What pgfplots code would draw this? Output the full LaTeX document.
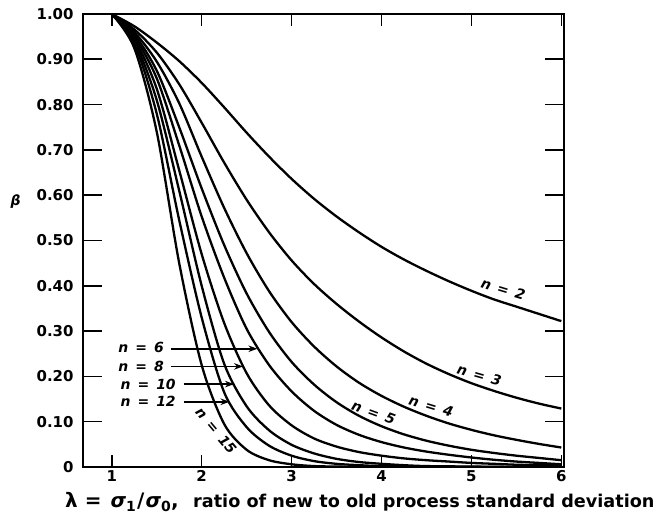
\documentclass[border=0pt]{standalone}
\usepackage{fontspec}
\setmainfont{DejaVu Sans}
\usepackage{pgfplots}
\pgfplotsset{compat=1.18}
\usetikzlibrary{arrows.meta}

\newcommand{\tickfont}{\fontsize{15}{15}\selectfont\bfseries}
\newcommand{\labfont}{\fontsize{14}{14}\selectfont\bfseries\itshape}

\pgfplotsset{
  frame/.style={
    at={(83bp,52bp)}, anchor=south west,
    scale only axis, width=481bp, height=453bp,
    xmin=0.68, xmax=6.03, ymin=0, ymax=1,
    axis line style={line width=1.8bp},
    tick align=inside,
    tick style={line width=1.6bp, black},
    tick label style={font=\tickfont},
  },
}

\begin{document}
\begin{tikzpicture}[x=1bp,y=1bp]
\useasboundingbox (0,0) rectangle (659,519);
% x ticks (shorter)
\begin{axis}[frame,
  major tick length=12bp,
  xtick={1,2,3,4,5,6},
  xticklabels={1,2,3,4,5,6},
  ytick=\empty,
]
\end{axis}
% y ticks and the OC curves
\begin{axis}[frame,
  major tick length=19bp,
  xtick=\empty,
  ytick={0,0.1,0.2,0.3,0.4,0.5,0.6,0.7,0.8,0.9,1},
  yticklabels={0,0.10,0.20,0.30,0.40,0.50,0.60,0.70,0.80,0.90,1.00},
  yticklabel style={xshift=-6bp},
  oc/.style={black, line width=2.3bp, smooth, tension=0.5, mark=none},
]
% n = 2
\addplot[oc] coordinates {(1.0,1.0) (1.25,0.973) (1.5,0.937) (1.75,0.896) (2.0,0.848)
  (2.25,0.794) (2.5,0.738) (2.75,0.685) (3.0,0.636) (3.25,0.592) (3.5,0.553)
  (3.75,0.518) (4.0,0.486) (4.25,0.458) (4.5,0.433) (4.75,0.410) (5.0,0.389)
  (5.25,0.370) (5.5,0.354) (5.75,0.338) (6.0,0.322)};
% n = 3
\addplot[oc] coordinates {(1.0,1.0) (1.25,0.966) (1.5,0.915) (1.75,0.845) (2.0,0.760)
  (2.25,0.672) (2.5,0.590) (2.75,0.518) (3.0,0.456) (3.25,0.404) (3.5,0.360)
  (3.75,0.321) (4.0,0.286) (4.25,0.255) (4.5,0.228) (4.75,0.205) (5.0,0.185)
  (5.25,0.168) (5.5,0.153) (5.75,0.140) (6.0,0.129)};
% n = 4
\addplot[oc] coordinates {(1.0,1.0) (1.25,0.960) (1.5,0.895) (1.75,0.803) (2.0,0.685)
  (2.25,0.572) (2.5,0.472) (2.75,0.388) (3.0,0.320) (3.25,0.266) (3.5,0.222)
  (3.75,0.186) (4.0,0.157) (4.25,0.133) (4.5,0.113) (4.75,0.096) (5.0,0.082)
  (5.25,0.070) (5.5,0.060) (5.75,0.051) (6.0,0.043)};
% n = 5
\addplot[oc] coordinates {(1.0,1.0) (1.25,0.955) (1.5,0.875) (1.75,0.750) (2.0,0.615)
  (2.25,0.490) (2.5,0.383) (2.75,0.298) (3.0,0.232) (3.25,0.182) (3.5,0.143)
  (3.75,0.113) (4.0,0.090) (4.25,0.072) (4.5,0.058) (4.75,0.047) (5.0,0.038)
  (5.25,0.031) (5.5,0.025) (5.75,0.020) (6.0,0.015)};
% n = 6
\addplot[oc] coordinates {(1.0,1.0) (1.25,0.950) (1.5,0.858) (1.75,0.710) (2.0,0.553)
  (2.25,0.418) (2.5,0.305) (2.75,0.225) (3.0,0.167) (3.25,0.124) (3.5,0.093)
  (3.75,0.071) (4.0,0.055) (4.25,0.043) (4.5,0.034) (4.75,0.027) (5.0,0.021)
  (5.25,0.016) (5.5,0.012) (5.75,0.009) (6.0,0.006)};
% n = 8
\addplot[oc] coordinates {(1.0,1.0) (1.25,0.945) (1.5,0.835) (1.75,0.655) (2.0,0.470)
  (2.25,0.318) (2.5,0.207) (2.75,0.136) (3.0,0.092) (3.25,0.063) (3.5,0.045)
  (3.75,0.033) (4.0,0.025) (4.25,0.019) (4.5,0.015) (4.75,0.012) (5.0,0.009)
  (5.25,0.007) (5.5,0.005) (5.75,0.004) (6.0,0.003)};
% n = 10
\addplot[oc] coordinates {(1.0,1.0) (1.25,0.940) (1.5,0.810) (1.75,0.610) (2.0,0.400)
  (2.25,0.228) (2.5,0.134) (2.75,0.081) (3.0,0.049) (3.25,0.030) (3.5,0.018)
  (3.75,0.011) (4.0,0.007) (4.25,0.004) (4.5,0.002) (5.0,0.001) (5.5,0.0) (6.0,0.0)};
% n = 12
\addplot[oc] coordinates {(1.0,1.0) (1.25,0.935) (1.5,0.780) (1.75,0.545) (2.0,0.330)
  (2.25,0.165) (2.5,0.088) (2.75,0.047) (3.0,0.025) (3.25,0.013) (3.5,0.007)
  (3.75,0.004) (4.0,0.002) (4.5,0.001) (5.0,0.0) (6.0,0.0)};
% n = 15
\addplot[oc] coordinates {(1.0,1.0) (1.25,0.925) (1.5,0.740) (1.75,0.450) (2.0,0.225)
  (2.25,0.095) (2.5,0.038) (2.75,0.015) (3.0,0.006) (3.25,0.002) (3.5,0.001)
  (4.0,0.0) (6.0,0.0)};

% labels with arrows
\draw[line width=1.6bp, -{Stealth[length=9bp,width=6.5bp]}] (axis cs:1.657,0.261) -- (axis cs:2.62,0.261);
\draw[line width=1.6bp, -{Stealth[length=9bp,width=6.5bp]}] (axis cs:1.657,0.222) -- (axis cs:2.46,0.222);
\draw[line width=1.6bp, -{Stealth[length=9bp,width=6.5bp]}] (axis cs:1.80,0.183) -- (axis cs:2.36,0.183);
\draw[line width=1.6bp, -{Stealth[length=9bp,width=6.5bp]}] (axis cs:1.80,0.144) -- (axis cs:2.31,0.144);
\node[anchor=east, font=\labfont, inner sep=0pt] at (axis cs:1.58,0.263) {n\enspace=\enspace6};
\node[anchor=east, font=\labfont, inner sep=0pt] at (axis cs:1.58,0.223) {n\enspace=\enspace8};
\node[anchor=east, font=\labfont, inner sep=0pt] at (axis cs:1.713,0.183) {n\enspace=\enspace10};
\node[anchor=east, font=\labfont, inner sep=0pt] at (axis cs:1.713,0.144) {n\enspace=\enspace12};

% labels along the curves
\node[rotate=-17, font=\labfont, inner sep=0pt] at (axis cs:5.354,0.393) {n\enspace=\enspace2};
\node[rotate=-16, font=\labfont, inner sep=0pt] at (axis cs:5.087,0.203) {n\enspace=\enspace3};
\node[rotate=-17, font=\labfont, inner sep=0pt] at (axis cs:4.552,0.135) {n\enspace=\enspace4};
\node[rotate=-20, font=\labfont, inner sep=0pt] at (axis cs:3.912,0.120) {n\enspace=\enspace5};
\node[rotate=-50, font=\labfont, inner sep=0pt] at (axis cs:2.16,0.080) {n\enspace=\enspace15};
\end{axis}

% axis titles
\node[font=\fontsize{14}{14}\selectfont\bfseries\itshape, inner sep=0pt] at (15.5,317.5) {β};
\node[anchor=base west, inner sep=0pt, font=\fontsize{20}{20}\selectfont\bfseries] at (65,11)
  {λ\hspace{7bp}=\hspace{9bp}{\itshape σ}\textsubscript{1}\hspace{1bp}/\hspace{1bp}{\itshape σ}\textsubscript{0},};
\node[anchor=base west, inner sep=0pt, font=\fontsize{17.7}{17.7}\selectfont\bfseries] at (193,11)
  {ratio of new to old process standard deviation};
\end{tikzpicture}
\end{document}
